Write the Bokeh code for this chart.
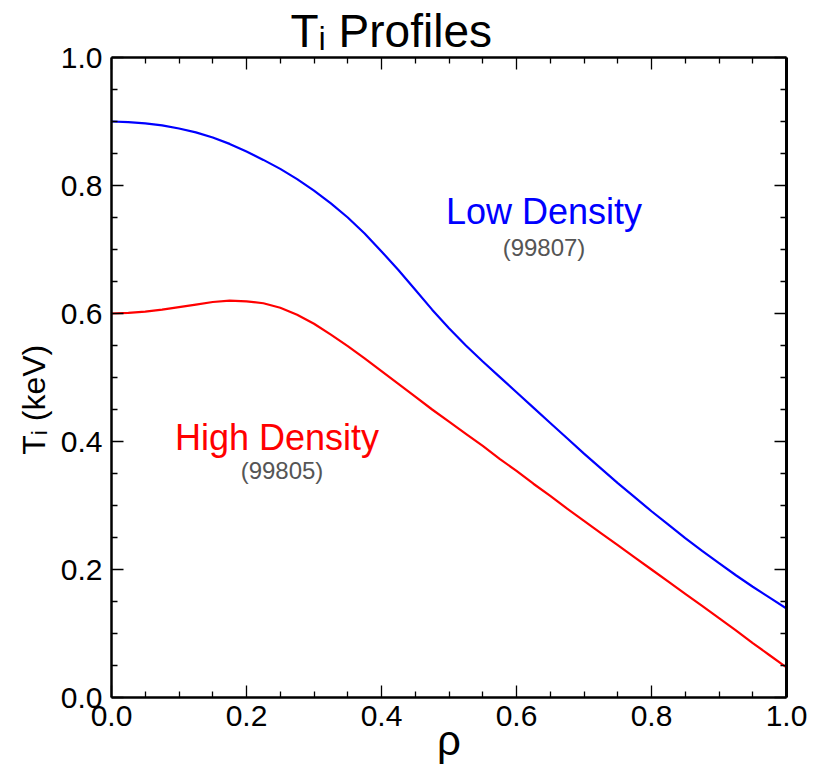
from bokeh.plotting import figure
from bokeh.models import Range1d, LinearAxis, FixedTicker, PrintfTickFormatter, Label
from bokeh.embed import file_html
from bokeh.resources import INLINE

# ---- data ----
rho = [0.000, 0.025, 0.050, 0.075, 0.100, 0.125, 0.150, 0.175, 0.200, 0.225,
       0.250, 0.275, 0.300, 0.325, 0.350, 0.375, 0.400, 0.425, 0.450, 0.475,
       0.500, 0.525, 0.550, 0.575, 0.600, 0.625, 0.650, 0.675, 0.700, 0.725,
       0.750, 0.775, 0.800, 0.825, 0.850, 0.875, 0.900, 0.925, 0.950, 0.975, 1.000]
ti_low = [0.900, 0.899, 0.897, 0.894, 0.889, 0.883, 0.875, 0.865, 0.853, 0.840,
          0.826, 0.810, 0.792, 0.772, 0.750, 0.725, 0.697, 0.668, 0.637, 0.606,
          0.577, 0.550, 0.525, 0.501, 0.477, 0.453, 0.429, 0.405, 0.381, 0.358,
          0.335, 0.313, 0.291, 0.270, 0.249, 0.229, 0.210, 0.191, 0.173, 0.156, 0.139]
ti_high = [0.600, 0.601, 0.603, 0.606, 0.610, 0.614, 0.618, 0.620, 0.619, 0.616,
           0.609, 0.598, 0.584, 0.567, 0.549, 0.530, 0.510, 0.490, 0.470, 0.450,
           0.431, 0.412, 0.393, 0.373, 0.354, 0.334, 0.315, 0.295, 0.276, 0.257,
           0.238, 0.219, 0.200, 0.181, 0.162, 0.143, 0.124, 0.105, 0.085, 0.066, 0.047]

major_ticks = [0.0, 0.2, 0.4, 0.6, 0.8, 1.0]
minor_ticks = [0.05, 0.10, 0.15, 0.25, 0.30, 0.35, 0.45, 0.50, 0.55,
               0.65, 0.70, 0.75, 0.85, 0.90, 0.95]

title_text = "T\u1d62 Profiles"
x_label = "\u03c1"
y_label = "T\u1d62 (keV)"

FONT = "Liberation Sans"

p = figure(width=831, height=767, output_backend="svg", toolbar_location=None,
           x_range=Range1d(0, 1), y_range=Range1d(0, 1),
           min_border_left=111, min_border_right=45, min_border_top=57, min_border_bottom=70)
p.grid.visible = False
p.outline_line_color = None
p.background_fill_color = "white"
p.border_fill_color = "white"

p.title.text = title_text
p.title.text_font = FONT
p.title.text_font_size = "46px"
p.title.text_font_style = "normal"
p.title.text_color = "black"
p.title.align = "left"
p.title.offset = 179
p.title.standoff = 2


def style_axis(ax, labels=True):
    ax.ticker = FixedTicker(ticks=major_ticks, minor_ticks=minor_ticks)
    ax.axis_line_color = "black"
    ax.axis_line_width = 2.5
    ax.major_tick_in = 12
    ax.major_tick_out = 0
    ax.minor_tick_in = 6
    ax.minor_tick_out = 0
    ax.major_tick_line_color = "black"
    ax.minor_tick_line_color = "black"
    ax.major_tick_line_width = 1.3
    ax.minor_tick_line_width = 1.3
    if labels:
        ax.formatter = PrintfTickFormatter(format="%.1f")
        ax.major_label_text_font = FONT
        ax.major_label_text_font_size = "30px"
        ax.major_label_text_color = "black"
        ax.axis_label_text_font = FONT
        ax.axis_label_text_font_style = "normal"
        ax.axis_label_text_color = "black"
    else:
        ax.formatter = PrintfTickFormatter(format="")
        ax.major_label_text_font_size = "0px"
        ax.major_label_standoff = 0


xa = p.xaxis[0]
ya = p.yaxis[0]
style_axis(xa)
style_axis(ya)
xa.major_label_standoff = 8
ya.major_label_standoff = 9
xa.axis_label = x_label
xa.axis_label_text_font_size = "42px"
xa.axis_label_standoff = -12
ya.axis_label = y_label + "\u00a0\u00a0\u00a0\u00a0\u00a0"
ya.axis_label_text_font_size = "32px"
ya.axis_label_standoff = 6

top = LinearAxis()
style_axis(top, labels=False)
p.add_layout(top, "above")
right = LinearAxis()
style_axis(right, labels=False)
right.axis_line_width = 3
p.add_layout(right, "right")

p.line(rho, ti_low, line_color="#0000ff", line_width=2.2)
p.line(rho, ti_high, line_color="#ff0000", line_width=2.2)


def px(x):
    return (x - 111) / 675.0


def py(y):
    return (697 - y) / 640.0


def lab(text, x, y, size, color="black", align="left"):
    p.add_layout(Label(x=px(x), y=py(y), text=text, text_font=FONT, text_font_size=size,
                       text_color=color, text_align=align, text_baseline="alphabetic"))


# annotations
lab("Low Density", 543.5, 211, "36px", "#0000ff", "center")
lab("(99807)", 543.5, 247, "24px", "#555555", "center")
lab("High Density", 276.5, 437, "36px", "#ff0000", "center")
lab("(99805)", 281.5, 470, "24px", "#555555", "center")

open("out.html", "w").write(file_html(p, INLINE))
